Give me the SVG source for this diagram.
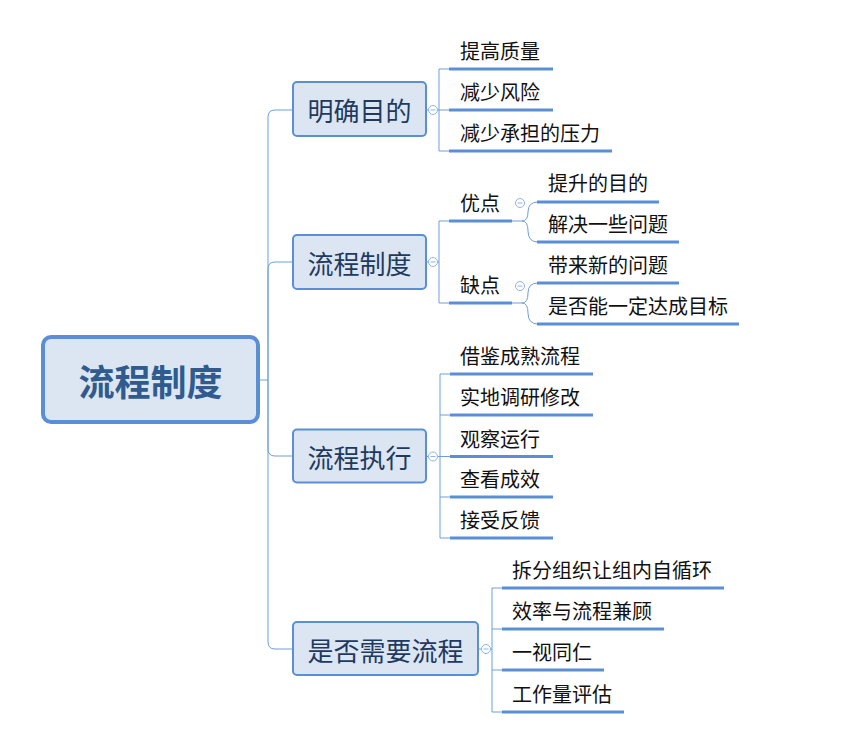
<svg xmlns="http://www.w3.org/2000/svg" width="868" height="745" viewBox="0 0 868 745">
<style>
text{font-family:'Noto Sans CJK SC','Noto Sans',sans-serif;dominant-baseline:central}
.leaf{font-size:20px;fill:#111}
.l1{font-size:26px;fill:#1f3a60;text-anchor:middle}
.root{font-size:36px;font-weight:bold;fill:#2f5b8f;text-anchor:middle}
.box{fill:#dce6f2;stroke:#5b8fd4;stroke-width:2}
.ul{stroke:#5b8fd4;stroke-width:3;fill:none}
.cn{stroke:#6f9fd8;stroke-width:1;fill:none}
.cb{fill:#fff;stroke:#8fb4e3;stroke-width:1}
.cbm{stroke:#8fb4e3;stroke-width:1}
</style>
<rect width="868" height="745" fill="#fff"/>
<g id="connectors">
<path class="cn" d="M259,380 H268 V117 Q268,110 275,110 H293"/>
<path class="cn" d="M268,380 V269 Q268,262 275,262 H293"/>
<path class="cn" d="M268,380 V449 Q268,456 275,456 H293"/>
<path class="cn" d="M268,380 V642 Q268,649 275,649 H293"/>
<path class="cn" d="M426,110 H439 M449,69 H439 V151 H449 M439,110 H449"/>
<path class="cn" d="M426,262 H439 M449,221 H439 V303 H449"/>
<path class="cn" d="M426,456.5 H450 M450,374 H440 V538 H450 M440,415 H450 M440,497 H450"/>
<path class="cn" d="M478,649 H492 M502,588 H492 V712 H502 M492,629 H502 M492,670 H502"/>
<path class="cn" d="M512,221 H522 Q528,221 528,212 Q528,202 538,202 M522,221 Q528,221 528,231 Q528,242 538,242"/>
<path class="cn" d="M512,303 H522 Q528,303 528,293 Q528,283 538,283 M522,303 Q528,303 528,313 Q528,324 538,324"/>
</g>
<g id="root">
<rect x="43" y="337" width="215" height="85" rx="8" fill="#dce6f2" stroke="#5b8fd4" stroke-width="4"/>
<text class="root" x="150.5" y="380">流程制度</text>
</g>
<g id="n-mingque">
<rect class="box" x="293" y="82" width="133" height="54" rx="4"/>
<text class="l1" x="359.5" y="109.5">明确目的</text>
<circle class="cb" cx="433" cy="110" r="4.5"/><line class="cbm" x1="430.5" y1="110" x2="435.5" y2="110"/>
</g>
<g id="n-liucheng">
<rect class="box" x="293" y="235" width="133" height="54" rx="4"/>
<text class="l1" x="359.5" y="262.5">流程制度</text>
<circle class="cb" cx="433" cy="262" r="4.5"/><line class="cbm" x1="430.5" y1="262" x2="435.5" y2="262"/>
</g>
<g id="n-zhixing">
<rect class="box" x="293" y="429.5" width="133" height="53" rx="4"/>
<text class="l1" x="359.5" y="456.5">流程执行</text>
<circle class="cb" cx="433" cy="456.5" r="4.5"/><line class="cbm" x1="430.5" y1="456.5" x2="435.5" y2="456.5"/>
</g>
<g id="n-shifou">
<rect class="box" x="293" y="622" width="185" height="53" rx="4"/>
<text class="l1" x="385.5" y="649">是否需要流程</text>
<circle class="cb" cx="486" cy="649" r="4.5"/><line class="cbm" x1="483.5" y1="649" x2="488.5" y2="649"/>
</g>
<g id="l-1"><text class="leaf" x="460" y="50.5">提高质量</text><line class="ul" x1="449" y1="69" x2="553" y2="69"/></g>
<g id="l-2"><text class="leaf" x="460" y="91.5">减少风险</text><line class="ul" x1="449" y1="110" x2="553" y2="110"/></g>
<g id="l-3"><text class="leaf" x="460" y="132.5">减少承担的压力</text><line class="ul" x1="449" y1="151" x2="612" y2="151"/></g>
<g id="l-youdian"><text class="leaf" x="460" y="202.5">优点</text><line class="ul" x1="449" y1="221" x2="512" y2="221"/>
<circle class="cb" cx="520" cy="203" r="4.5"/><line class="cbm" x1="517.5" y1="203" x2="522.5" y2="203"/></g>
<g id="l-quedian"><text class="leaf" x="460" y="284.5">缺点</text><line class="ul" x1="449" y1="303" x2="512" y2="303"/>
<circle class="cb" cx="520" cy="286" r="4.5"/><line class="cbm" x1="517.5" y1="286" x2="522.5" y2="286"/></g>
<g id="l-4"><text class="leaf" x="548" y="182.5">提升的目的</text><line class="ul" x1="537" y1="202" x2="659" y2="202"/></g>
<g id="l-5"><text class="leaf" x="548" y="223.5">解决一些问题</text><line class="ul" x1="537" y1="242" x2="679" y2="242"/></g>
<g id="l-6"><text class="leaf" x="548" y="264.5">带来新的问题</text><line class="ul" x1="537" y1="283" x2="679" y2="283"/></g>
<g id="l-7"><text class="leaf" x="548" y="305.5">是否能一定达成目标</text><line class="ul" x1="537" y1="324" x2="739" y2="324"/></g>
<g id="l-8"><text class="leaf" x="460" y="355.5">借鉴成熟流程</text><line class="ul" x1="450" y1="374" x2="593" y2="374"/></g>
<g id="l-9"><text class="leaf" x="460" y="396.5">实地调研修改</text><line class="ul" x1="450" y1="415" x2="593" y2="415"/></g>
<g id="l-10"><text class="leaf" x="460" y="438">观察运行</text><line class="ul" x1="450" y1="456.5" x2="553" y2="456.5"/></g>
<g id="l-11"><text class="leaf" x="460" y="478.5">查看成效</text><line class="ul" x1="450" y1="497" x2="553" y2="497"/></g>
<g id="l-12"><text class="leaf" x="460" y="519.5">接受反馈</text><line class="ul" x1="450" y1="538" x2="553" y2="538"/></g>
<g id="l-13"><text class="leaf" x="512" y="569.5">拆分组织让组内自循环</text><line class="ul" x1="502" y1="588" x2="724" y2="588"/></g>
<g id="l-14"><text class="leaf" x="512" y="610.5">效率与流程兼顾</text><line class="ul" x1="502" y1="629" x2="664" y2="629"/></g>
<g id="l-15"><text class="leaf" x="512" y="651.5">一视同仁</text><line class="ul" x1="502" y1="670" x2="604" y2="670"/></g>
<g id="l-16"><text class="leaf" x="512" y="693.5">工作量评估</text><line class="ul" x1="502" y1="712" x2="624" y2="712"/></g>
</svg>
